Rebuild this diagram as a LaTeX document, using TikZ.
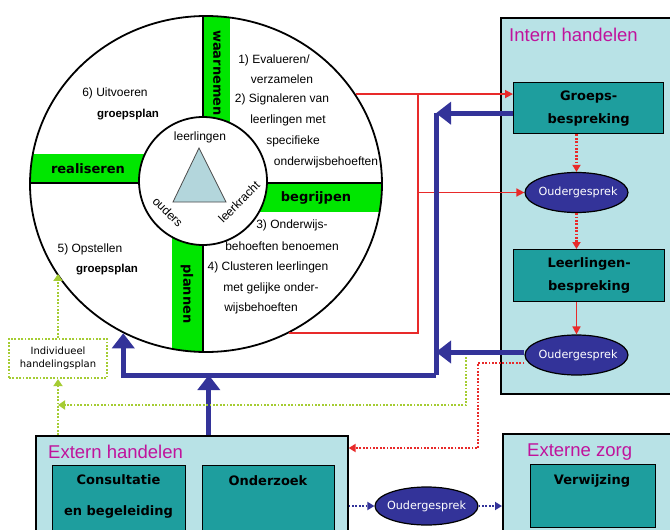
\documentclass[tikz,border=0pt]{standalone}
\usepackage{fontspec}
\setmainfont{Liberation Sans}
\newfontfamily\roundfont{DejaVu Sans}
\usetikzlibrary{arrows.meta, positioning, shapes.geometric, calc}
\definecolor{bandgreen}{HTML}{00E600}
\definecolor{panelbg}{HTML}{B8E2E6}
\definecolor{tealbox}{HTML}{1E9E9E}
\definecolor{darkblue}{HTML}{333399}
\definecolor{linered}{HTML}{E82A2A}
\definecolor{limegreen}{HTML}{A5CC33}
\definecolor{titlemagenta}{HTML}{C0139C}
\definecolor{trifill}{HTML}{B3D6DC}

\begin{document}
\begin{tikzpicture}[x=1pt, y=-1pt,
    panel/.style={rectangle, draw=black, line width=1.6pt, fill=panelbg, anchor=north west, inner sep=0pt},
    tbox/.style={rectangle, draw=black, line width=1.4pt, fill=tealbox, anchor=north west, inner sep=0pt, font=\roundfont\bfseries\fontsize{13}{23}\selectfont, align=center},
    tlabel/.style={font=\roundfont\bfseries\fontsize{13}{23}\selectfont, align=center, inner sep=0pt},
    ptitle/.style={anchor=west, inner sep=0pt, font=\fontsize{18.5}{20}\selectfont, text=titlemagenta},
    talk/.style={ellipse, draw=black, line width=1.2pt, fill=darkblue, text=white, minimum width=103pt, minimum height=40pt, inner sep=0pt, font=\roundfont\fontsize{11.2}{13}\selectfont},
    band/.style={inner sep=0pt, font=\roundfont\bfseries\fontsize{13}{15}\selectfont},
    qtext/.style={inner sep=0pt, font=\fontsize{12}{14}\selectfont},
    qbold/.style={inner sep=0pt, font=\bfseries\fontsize{11.5}{14}\selectfont},
    redln/.style={linered, line width=1.6pt},
    redarr/.style={redln, -{Triangle[length=8pt, width=8pt]}},
    reddot/.style={linered, line width=2.2pt, dash pattern=on 1.8pt off 1.6pt, -{Triangle[length=7pt, width=8pt]}},
    blueln/.style={darkblue, line width=5pt},
    bluearr/.style={blueln, -{Triangle[length=15pt, width=22pt]}},
    bluedot/.style={darkblue, line width=2.2pt, dash pattern=on 1.8pt off 1.6pt, -{Triangle[length=7pt, width=8pt]}},
    greendot/.style={limegreen, line width=2.2pt, dash pattern=on 1.8pt off 1.6pt, -{Triangle[length=7pt, width=9pt]}},
  ]
  \clip (0,0) rectangle (670,530);

  % Panels
  \node[panel, minimum width=180pt, minimum height=376pt] (intern) at (500,17) {};
  \node[panel, minimum width=312pt, minimum height=110pt] (extern) at (35,435) {};
  \node[panel, minimum width=180pt, minimum height=110pt] (zorg) at (502,433) {};
  \node[ptitle] (intern-t) at (509,35) {Intern handelen};
  \node[ptitle] (extern-t) at (48,452) {Extern handelen};
  \node[ptitle] (zorg-t) at (527,452) {Externe zorg};

  \node[tbox, minimum width=150pt, minimum height=51pt] (groeps) at (513,82) {Groeps-\\bespreking};
  \node[tbox, minimum width=151pt, minimum height=52pt] (leerl) at (513,249) {Leerlingen-\\bespreking};
  \node[tbox, minimum width=133pt, minimum height=80pt] (consult) at (52,465) {};
  \node[tbox, minimum width=132pt, minimum height=80pt] (onderz) at (202,465) {};
  \node[tbox, minimum width=125pt, minimum height=63pt] (verwijz) at (530,464) {};
  \node[tlabel] (consult-t) at (118.5,496) {Consultatie\\[8pt]en begeleiding};
  \node[tlabel] (onderz-t) at (268,481) {Onderzoek};
  \node[tlabel] (verwijz-t) at (592,481) {Verwijzing};

  \node[talk] (oud1) at (576.5,192.5) {\makebox[0pt]{\hspace{3pt}Oudergesprek}};
  \node[talk] (oud2) at (576.5,355) {\makebox[0pt]{\hspace{3pt}Oudergesprek}};
  \node[talk, minimum height=38pt] (oud3) at (426.5,506) {\makebox[0pt]{Oudergesprek}};

  \node[draw=limegreen, line width=2.2pt, dash pattern=on 1.8pt off 1.6pt, minimum width=98pt, minimum height=39pt, inner sep=0pt, align=center, font=\roundfont\fontsize{10}{13}\selectfont] (indiv) at (58,358.5) {Individueel\\handelingsplan};

  % Wheel with bands
  \begin{scope}
    \clip (206,184) ellipse [x radius=176pt, y radius=168pt];
    \fill[bandgreen] (203,0) rectangle (230,184);
    \fill[bandgreen] (0,154) rectangle (203,183);
    \fill[bandgreen] (203,183) rectangle (400,212);
    \fill[bandgreen] (172,183) rectangle (203,400);
    \draw[line width=2pt] (202.5,0) -- (202.5,400);
    \draw[line width=2pt] (0,183) -- (400,183);
  \end{scope}
  \node[ellipse, draw, line width=1.8pt, minimum width=352pt, minimum height=336pt, inner sep=0pt] (wheel) at (206,184) {};
  \node[circle, draw, line width=1.8pt, fill=white, minimum size=128pt, inner sep=0pt] (hub) at (203,181) {};
  \draw[draw=black!70, fill=trifill, line width=0.8pt] (199,148) -- (173,202) -- (226,202) -- cycle;

  \node[qtext] (who-l) at (200,137) {leerlingen};
  \node[qtext, rotate=-45] (who-o) at (168,212) {ouders};
  \node[qtext, rotate=45] (who-k) at (239,202) {leerkracht};

  \node[band, rotate=-90] (b-waar) at (217,73) {waarnemen};
  \node[band] (b-real) at (88,169) {realiseren};
  \node[band] (b-begr) at (316,198) {begrijpen};
  \node[band, rotate=-90] (b-plan) at (187,294) {plannen};

  % Steps
  \node[qtext] (s1a) at (274,60) {1) Evalueren/};
  \node[qtext] (s1b) at (282,79) {verzamelen};
  \node[qtext] (s2a) at (282,99) {2) Signaleren van};
  \node[qtext] (s2b) at (288,120) {leerlingen met};
  \node[qtext] (s2c) at (293,141) {specifieke};
  \node[qtext] (s2d) at (326,162) {onderwijsbehoeften};
  \node[qtext] (s3a) at (292,225) {3) Onderwijs-};
  \node[qtext] (s3b) at (282,246) {behoeften benoemen};
  \node[qtext] (s4a) at (268,267) {4) Clusteren leerlingen};
  \node[qtext] (s4b) at (271,288) {met gelijke onder-};
  \node[qtext] (s4c) at (261,308) {wijsbehoeften};
  \node[qtext] (s5a) at (90,249) {5) Opstellen};
  \node[qbold] (s5b) at (107,270) {groepsplan};
  \node[qtext] (s6a) at (115,93) {6) Uitvoeren};
  \node[qbold] (s6b) at (128,115) {groepsplan};

  % Red lines to intern handelen
  \coordinate (rtrunk) at (418,95);
  \draw[redarr] (wheel.31) -- (wheel.31 -| groeps.west);
  \draw[redln] (wheel.-61.5) -- (wheel.-61.5 -| rtrunk) -- (rtrunk);
  \draw[redarr] (rtrunk |- oud1) -- (oud1.west);
  \draw[reddot] (oud1.north |- groeps.south) -- (oud1.north);
  \draw[reddot] (oud1.south) -- (oud1.south |- leerl.north);
  \draw[redarr] (oud2.north |- leerl.south) -- (oud2.north);

  % Blue feedback
  \coordinate (btrunk) at (436,375);
  \draw[bluearr] ([yshift=-5pt]groeps.west) -- ([yshift=-5pt]groeps.west -| btrunk);
  \draw[blueln] ([yshift=-5pt]groeps.west -| btrunk) -- (btrunk);
  \draw[bluearr] ([yshift=3pt]oud2.west) -- ([yshift=3pt]oud2.west -| btrunk);
  \draw[bluearr] (btrunk) -| (wheel.241);
  \draw[bluearr] ([xshift=17pt]extern.north) -- ([xshift=17pt]extern.north |- btrunk);

  % Dotted connections
  \coordinate (gsplit) at (466,357);
  \coordinate (gturn) at (466,405);
  \draw[greendot] (gsplit) -- (gturn) -- (gturn -| indiv.south);
  \draw[greendot] (extern.north -| indiv.south) -- (indiv.south);
  \draw[greendot] (indiv.north) -- (indiv.north |- wheel.211.6);
  \coordinate (rdturn) at (478,448);
  \draw[reddot] ([yshift=-8pt]oud2.west) -| (rdturn) -- (rdturn -| extern.east);
  \draw[bluedot] (extern.east |- oud3) -- (oud3.west);
  \draw[bluedot] (oud3.east) -- (oud3.east -| zorg.west);
\end{tikzpicture}
\end{document}
